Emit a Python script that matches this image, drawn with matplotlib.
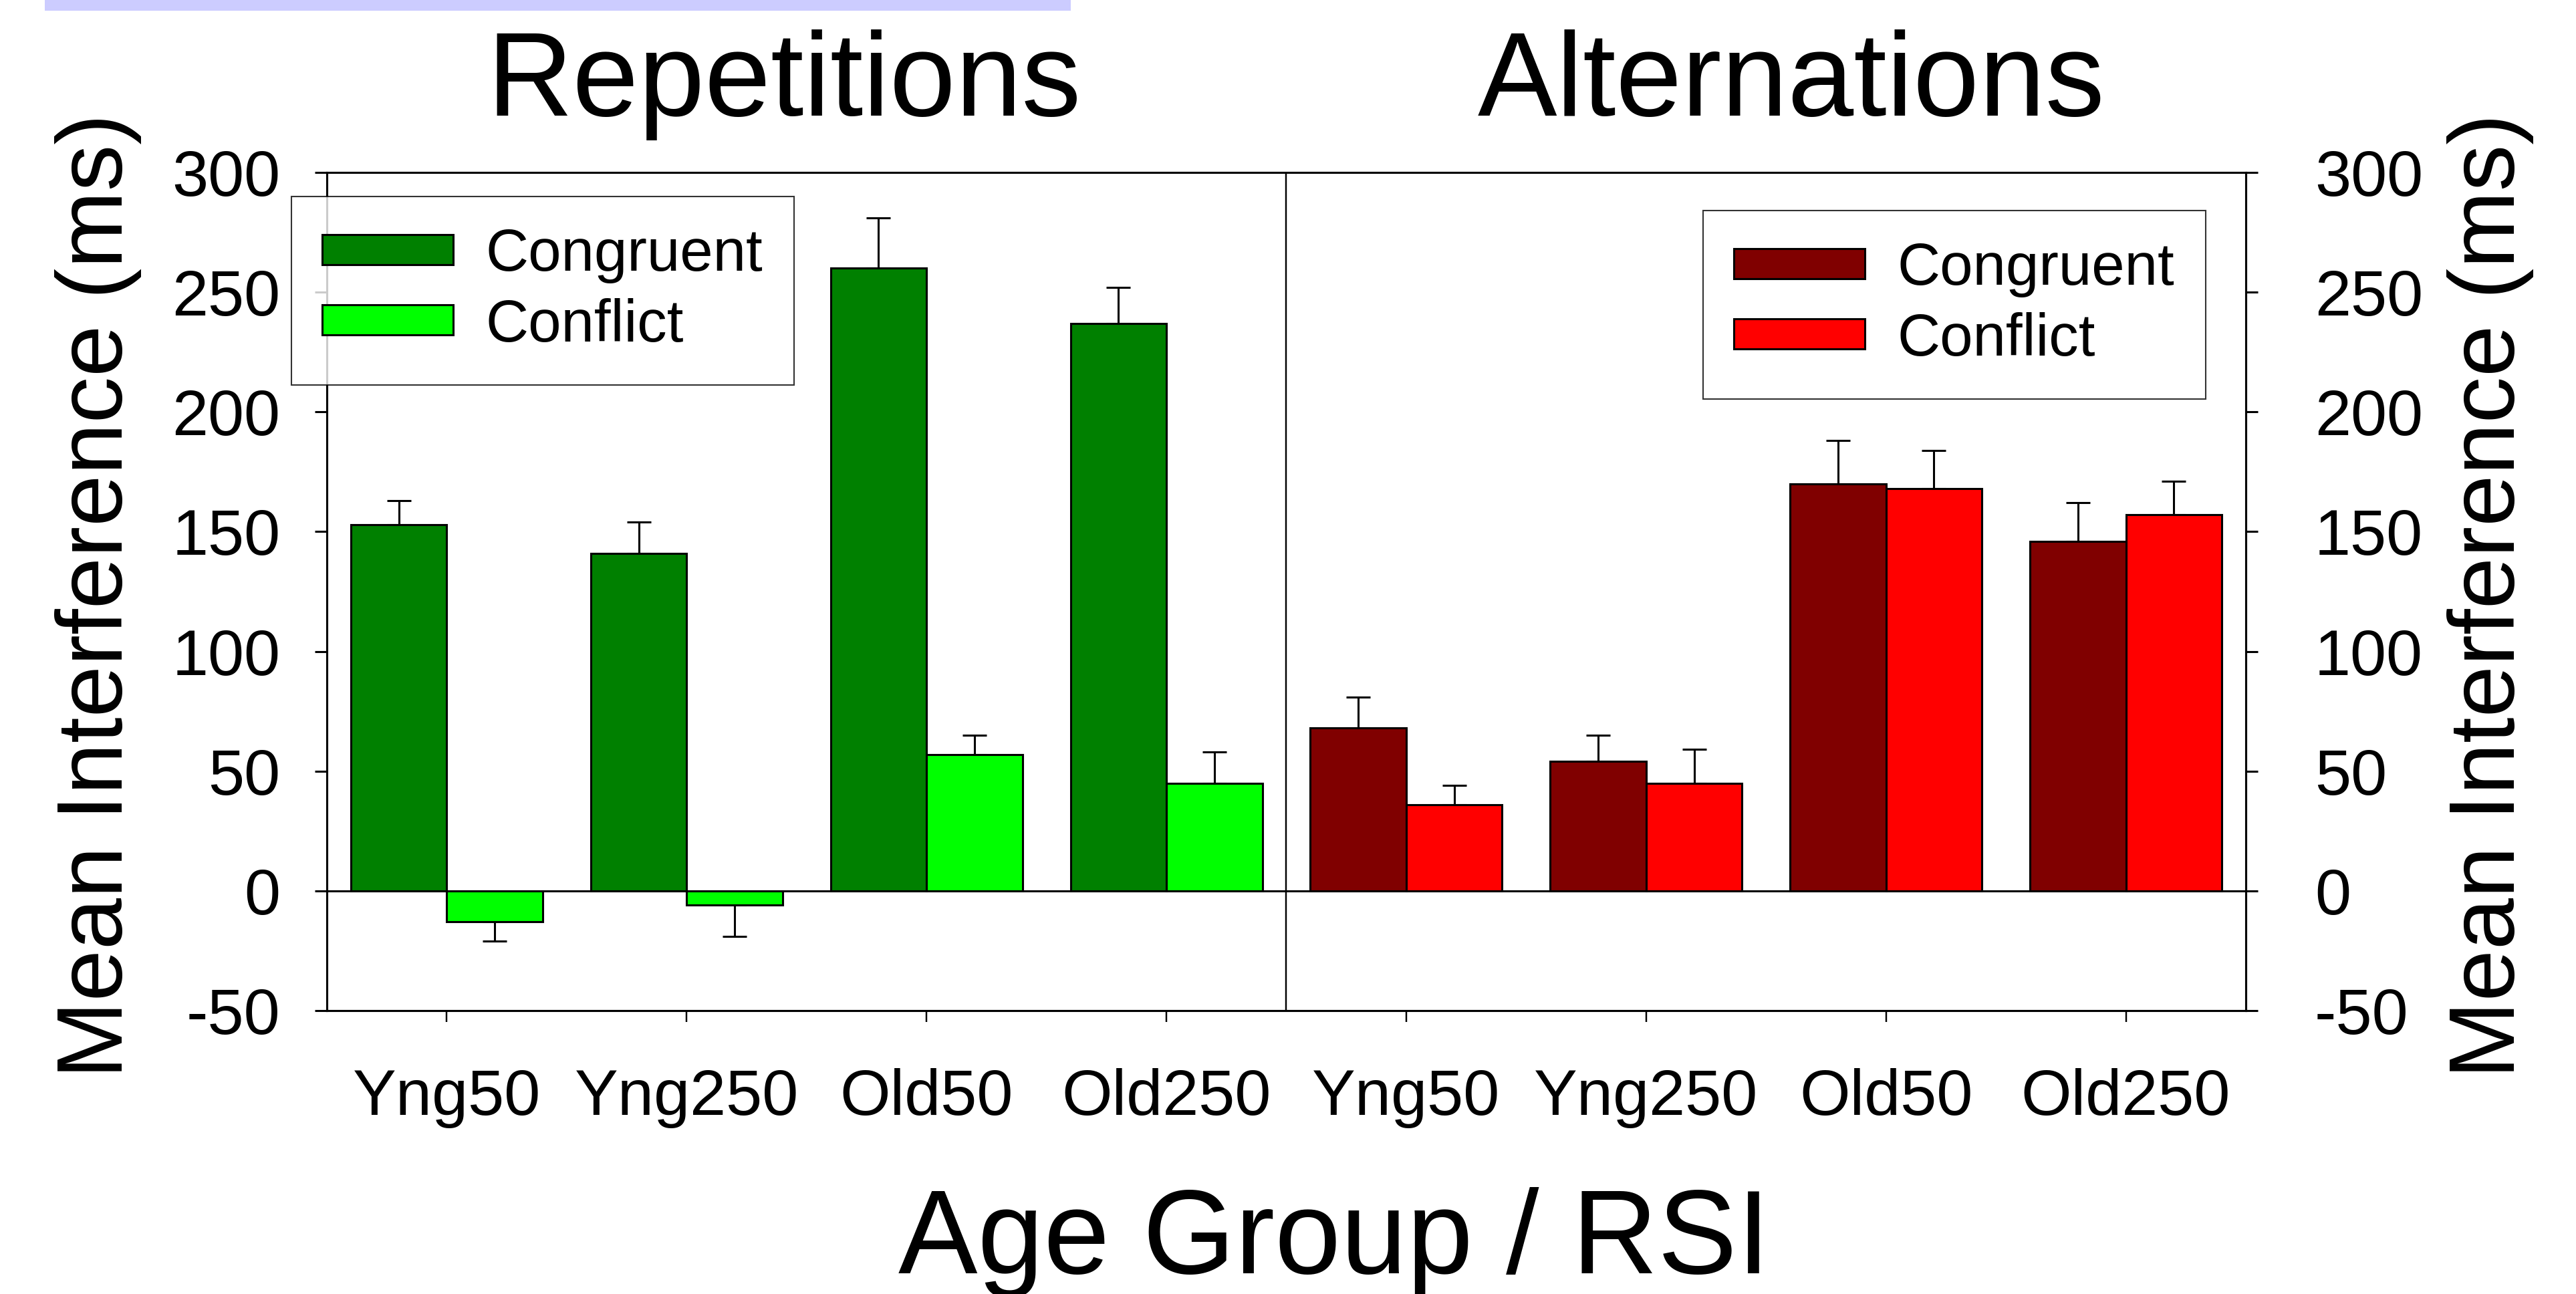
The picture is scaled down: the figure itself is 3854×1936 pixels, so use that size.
import numpy as np
import matplotlib
matplotlib.use("Agg")
import matplotlib.pyplot as plt
from matplotlib.patches import Rectangle

plt.rcParams['font.family'] = ['Liberation Sans', 'DejaVu Sans']
plt.rcParams['axes.unicode_minus'] = False

# data
groups = ['Yng50', 'Yng250', 'Old50', 'Old250']
rep_congruent = [153, 141, 260, 237]
rep_congruent_err = [10, 13, 21, 15]
rep_conflict = [-13, -6, 57, 45]
rep_conflict_err = [8, 13, 8, 13]
alt_congruent = [68, 54, 170, 146]
alt_congruent_err = [13, 11, 18, 16]
alt_conflict = [36, 45, 168, 157]
alt_conflict_err = [8, 14, 16, 14]
yticks = [-50, 0, 50, 100, 150, 200, 250, 300]

W, H = 3855, 1936
fig = plt.figure(figsize=(W / 100, H / 100), dpi=100)
ax = fig.add_axes([489 / W, 1 - 1512 / H, (3360 - 489) / W, (1512 - 258) / H])

lw = 2.2
bw = 0.4
x = np.arange(len(groups))


def one_sided(vals, errs):
    vals = np.array(vals, dtype=float)
    errs = np.array(errs, dtype=float)
    lower = np.where(vals < 0, errs, 0)
    upper = np.where(vals >= 0, errs, 0)
    return [lower, upper]


series = [
    (x - bw / 2, rep_congruent, rep_congruent_err, '#008000'),
    (x + bw / 2, rep_conflict, rep_conflict_err, '#00FF00'),
    (x + 4 - bw / 2, alt_congruent, alt_congruent_err, '#800000'),
    (x + 4 + bw / 2, alt_conflict, alt_conflict_err, '#FF0000'),
]
bars = []
for pos, vals, errs, col in series:
    b = ax.bar(pos, vals, width=bw, color=col, edgecolor='black', linewidth=lw, zorder=3)
    ax.errorbar(pos, vals, yerr=one_sided(vals, errs), fmt='none', ecolor='black',
                elinewidth=lw, capsize=13, capthick=lw, zorder=2)
    bars.append(b)

ax.axhline(0, color='black', lw=lw, zorder=4)
ax.axvline(3.5, color='black', lw=lw * 0.8, zorder=4)

ax.set_xlim(-0.5, 7.5)
ax.set_ylim(-50, 300)
ax.set_yticks(yticks)
ax.set_xticks(np.arange(8), groups * 2)
for s in ax.spines.values():
    s.set_linewidth(lw)
ax.tick_params(axis='y', length=13, width=lw, direction='out', pad=37, labelsize=70)
ax.tick_params(axis='x', length=12, width=lw * 0.8, direction='out', pad=50, labelsize=70)

ax2 = ax.twinx()
ax2.set_ylim(-50, 300)
ax2.set_yticks(yticks)
ax2.tick_params(axis='y', length=13, width=lw, direction='out', pad=61, labelsize=70)
for s in ax2.spines.values():
    s.set_linewidth(lw)

leg_kw = dict(fontsize=64, frameon=True, fancybox=False, edgecolor='black',
              handlelength=2.2, handleheight=0.4, handletextpad=0.55,
              labelspacing=0.24, borderpad=0.52, borderaxespad=0,
              loc='upper left', bbox_transform=fig.transFigure)
leg1 = ax2.legend([bars[0], bars[1]], ['Congruent', 'Conflict'],
                  bbox_to_anchor=(436 / W, 1 - 294 / H), **leg_kw)
leg1.get_frame().set_linewidth(1.5)
ax2.add_artist(leg1)
leg2 = ax2.legend([bars[2], bars[3]], ['Congruent', 'Conflict'],
                  bbox_to_anchor=(2548 / W, 1 - 315 / H), **leg_kw)
leg2.get_frame().set_linewidth(1.5)

fig.text(1173 / W, 1 - 173 / H, 'Repetitions', fontsize=128, ha='center', va='baseline')
fig.text(2680 / W, 1 - 173 / H, 'Alternations', fontsize=128, ha='center', va='baseline')
fig.text(1996 / W, 1 - 1905 / H, 'Age Group / RSI', fontsize=128, ha='center', va='baseline')
fig.text(183 / W, 1 - 891 / H, 'Mean Interference (ms)', fontsize=100, rotation=90,
         rotation_mode='anchor', ha='center', va='baseline')
fig.text(3762 / W, 1 - 891 / H, 'Mean Interference (ms)', fontsize=100, rotation=90,
         rotation_mode='anchor', ha='center', va='baseline')

# light blue strip across the top left
fig.patches.append(Rectangle((67 / W, 1 - 16 / H), (1602 - 67) / W, 16 / H,
                             transform=fig.transFigure, facecolor='#CCCCFF',
                             edgecolor='none'))

fig.savefig('out.png', dpi=100)
plt.close()
